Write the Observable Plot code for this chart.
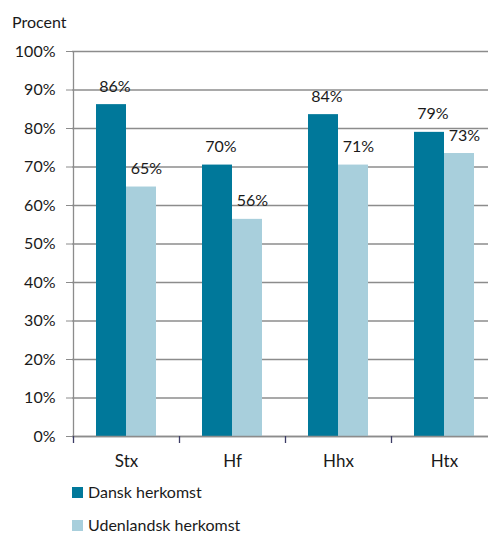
<!DOCTYPE html>
<html>
<head>
<meta charset="utf-8">
<script src="https://cdn.jsdelivr.net/npm/d3@7"></script>
<script src="https://cdn.jsdelivr.net/npm/@observablehq/plot@0.6"></script>
<style>
  body { margin: 0; background: #fff; font-family: Lato, sans-serif; color: #1a1a1a; }
  #title { height: 40px; box-sizing: border-box; padding: 12px 0 0 12px; font-size: 16px; line-height: 20px; }
  #chart svg { display: block; }
  .legend { position: relative; height: 63px; font-size: 16px; }
  .item { position: absolute; left: 72px; display: flex; align-items: center; height: 14px; line-height: 14px; }
  .sw { width: 11px; height: 11px; margin-right: 5px; }
</style>
</head>
<body>
<div id="title">Procent</div>
<div id="chart"></div>
<div class="legend" id="legend"></div>
<script>
const categories = ["Stx", "Hf", "Hhx", "Htx"];
const seriesNames = ["Dansk herkomst", "Udenlandsk herkomst"];
const dansk = [86.2, 70.5, 83.6, 79.0];
const udenlandsk = [64.8, 56.4, 70.5, 73.5];
const danskLabels = ["86%", "70%", "84%", "79%"];
const udenlandskLabels = ["65%", "56%", "71%", "73%"];
const yTicks = [0, 10, 20, 30, 40, 50, 60, 70, 80, 90, 100];
const colors = ["#00789a", "#a8cfdc"];

const rows = categories.map((c, i) => ({
  cat: c, dansk: dansk[i], uden: udenlandsk[i], dl: danskLabels[i], ul: udenlandskLabels[i]
}));

const chart = Plot.plot({
  width: 488,
  height: 432,
  marginLeft: 72,
  marginRight: -9,
  marginTop: 11,
  marginBottom: 36,
  style: { fontFamily: "Lato, sans-serif", fontSize: "16px", color: "#1a1a1a", overflow: "hidden" },
  x: { domain: categories, padding: 0, label: null },
  y: { domain: [0, 100], label: null },
  marks: [
    Plot.gridY(yTicks, { stroke: "#8c8c8c", strokeOpacity: 1, strokeWidth: 1.3 }),
    Plot.axisY(yTicks, { tickSize: 6, stroke: "#8c8c8c", tickPadding: 11, tickFormat: d => d + "%", fontSize: 16, fill: "#1a1a1a", label: null }),
    Plot.ruleX([categories[0]], { dx: -53, stroke: "#8c8c8c", strokeWidth: 1.3 }),
    Plot.barY(rows, { x: "cat", y: "dansk", fill: colors[0], insetLeft: 23, insetRight: 53 }),
    Plot.barY(rows, { x: "cat", y: "uden", fill: colors[1], insetLeft: 53, insetRight: 23 }),
    Plot.ruleY([0], { stroke: "#8c8c8c", strokeWidth: 1.3 }),
    Plot.axisX({ tickSize: 7, dx: -53, stroke: "#3d3d66", strokeWidth: 1.3, text: null, label: null }),
    Plot.axisX({ tickSize: 0, tickPadding: 18, dx: 0, fontSize: 17, fill: "#1a1a1a", label: null }),
    Plot.text(rows, { x: "cat", y: "dansk", text: "dl", dx: -11.5, dy: -18, fontSize: 16, fill: "#1a1a1a" }),
    Plot.text(rows, { x: "cat", y: "uden", text: "ul", dx: 20, dy: -18, fontSize: 16, fill: "#1a1a1a" })
  ]
});
document.getElementById("chart").appendChild(chart);

const legend = document.getElementById("legend");
seriesNames.forEach((name, i) => {
  const it = document.createElement("div");
  it.className = "item";
  it.style.top = (13 + i * 33) + "px";
  const sw = document.createElement("span");
  sw.className = "sw";
  sw.style.background = colors[i];
  const t = document.createElement("span");
  t.textContent = name;
  it.appendChild(sw);
  it.appendChild(t);
  legend.appendChild(it);
});
</script>
</body>
</html>
